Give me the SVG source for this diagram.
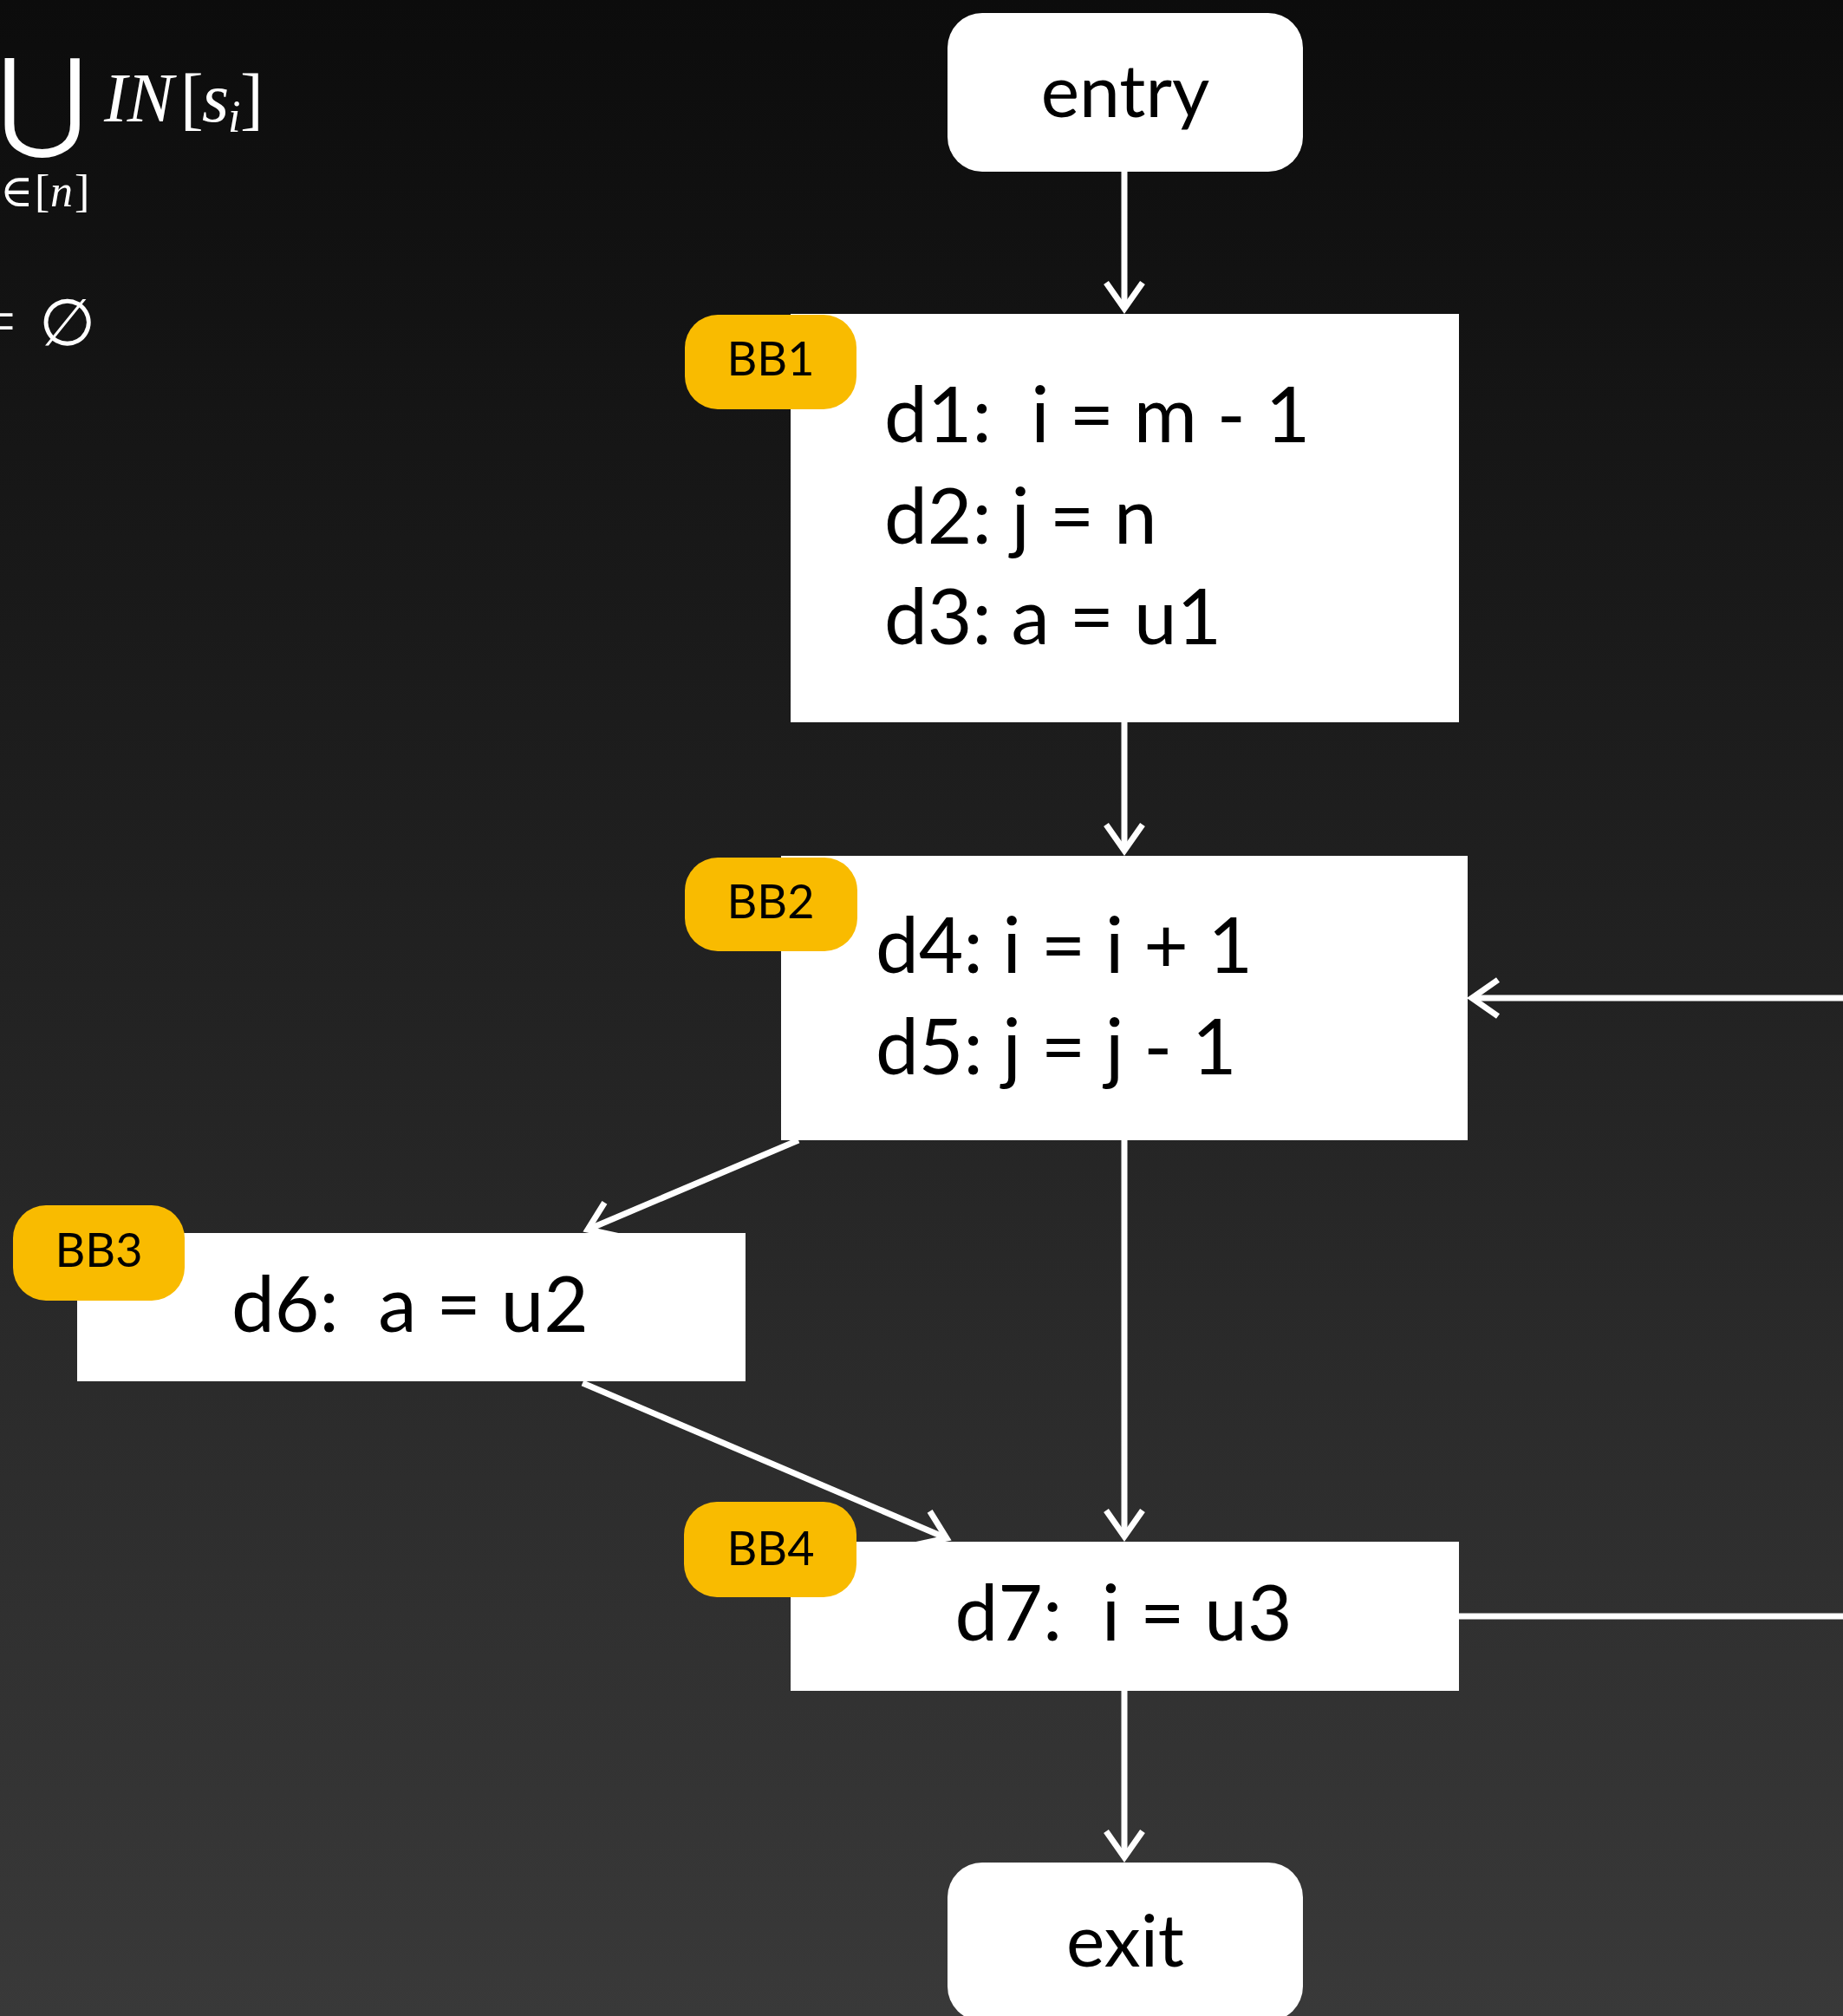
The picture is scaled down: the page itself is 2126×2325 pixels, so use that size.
<svg xmlns="http://www.w3.org/2000/svg" width="2126" height="2325" viewBox="0 0 2126 2325">
  <defs>
    <linearGradient id="bg" x1="0" y1="0" x2="0" y2="1">
      <stop offset="0" stop-color="#0c0c0c"/>
      <stop offset="1" stop-color="#393939"/>
    </linearGradient>
    <marker id="arr" markerUnits="userSpaceOnUse" viewBox="-40 -30 50 60" refX="0" refY="0" markerWidth="50" markerHeight="60" orient="auto" overflow="visible">
      <path d="M-30,-21 L0,0 L-30,21" fill="none" stroke="#fff" stroke-width="7"/>
    </marker>
    <style>
      .edge { stroke: #fff; stroke-width: 7; fill: none; }
      .box { fill: #fff; }
      .tag { fill: #f9bb00; }
      .code { font-family: "Lato", "Noto Sans", sans-serif; font-size: 89px; fill: #000; }
      .term { font-family: "Lato", "Noto Sans", sans-serif; font-size: 84px; fill: #000; text-anchor: middle; }
      .tagtext { font-family: "Lato", "Noto Sans", sans-serif; font-size: 54px; fill: #000; text-anchor: middle; }
      .math { font-family: "Liberation Serif", "DejaVu Serif", serif; fill: #fff; }
    </style>
  </defs>

  <rect width="2126" height="2325" fill="url(#bg)"/>

  <!-- dataflow equations, partly off the left edge -->
  <g id="equations">
    <text class="math" x="-3" y="158" font-size="126" font-family="DejaVu Serif, serif">⋃</text>
    <text class="math" x="120" y="140" font-size="80" font-style="italic">IN</text>
    <text class="math" x="208" y="140" font-size="80">[</text>
    <text class="math" x="233" y="140" font-size="80" font-style="italic">s</text>
    <text class="math" x="263" y="152" font-size="52" font-style="italic">i</text>
    <text class="math" x="277" y="140" font-size="80">]</text>
    <text class="math" x="0" y="238" font-size="52">∈</text>
    <text class="math" x="40" y="238" font-size="52">[</text>
    <text class="math" x="58" y="238" font-size="52" font-style="italic">n</text>
    <text class="math" x="86" y="238" font-size="52">]</text>
    <text class="math" x="18" y="395" font-size="75" text-anchor="end">=</text>
    <text class="math" x="45" y="398" font-size="75">∅</text>
  </g>

  <!-- control-flow edges -->
  <g id="edges">
    <line class="edge" x1="1297" y1="198" x2="1297" y2="356" marker-end="url(#arr)"/>
    <line class="edge" x1="1297" y1="833" x2="1297" y2="981" marker-end="url(#arr)"/>
    <line class="edge" x1="921" y1="1315" x2="678" y2="1418" marker-end="url(#arr)"/>
    <line class="edge" x1="1297" y1="1314" x2="1297" y2="1772" marker-end="url(#arr)"/>
    <line class="edge" x1="672" y1="1595" x2="1092" y2="1774" marker-end="url(#arr)"/>
    <line class="edge" x1="1297" y1="1950" x2="1297" y2="2142" marker-end="url(#arr)"/>
    <line class="edge" x1="1683" y1="1864" x2="2130" y2="1864"/>
    <line class="edge" x1="2130" y1="1151" x2="1698" y2="1151" marker-end="url(#arr)"/>
  </g>

  <g id="entry">
    <rect class="box" x="1093" y="15" width="410" height="183" rx="40"/>
    <text class="term" x="1298" y="135">entry</text>
  </g>

  <g id="bb1">
    <rect class="box" x="912" y="362" width="771" height="471"/>
    <text class="code" x="1020" y="510" xml:space="preserve">d1:  i = m - 1</text>
    <text class="code" x="1020" y="627">d2: j = n</text>
    <text class="code" x="1020" y="743">d3: a = u1</text>
    <rect class="tag" x="790" y="363" width="198" height="109" rx="38"/>
    <text class="tagtext" x="889" y="433">BB1</text>
  </g>

  <g id="bb2">
    <rect class="box" x="901" y="987" width="792" height="328"/>
    <text class="code" x="1010" y="1122">d4: i = i + 1</text>
    <text class="code" x="1010" y="1239">d5: j = j - 1</text>
    <rect class="tag" x="790" y="989" width="199" height="108" rx="38"/>
    <text class="tagtext" x="889" y="1059">BB2</text>
  </g>

  <g id="bb3">
    <rect class="box" x="89" y="1422" width="771" height="171"/>
    <text class="code" x="473" y="1536" text-anchor="middle" xml:space="preserve">d6:  a = u2</text>
    <rect class="tag" x="15" y="1390" width="198" height="110" rx="38"/>
    <text class="tagtext" x="114" y="1461">BB3</text>
  </g>

  <g id="bb4">
    <rect class="box" x="912" y="1778" width="771" height="172"/>
    <text class="code" x="1296" y="1892" text-anchor="middle" xml:space="preserve">d7:  i = u3</text>
    <rect class="tag" x="789" y="1732" width="199" height="110" rx="38"/>
    <text class="tagtext" x="889" y="1805">BB4</text>
  </g>

  <g id="exit">
    <rect class="box" x="1093" y="2148" width="410" height="183" rx="40"/>
    <text class="term" x="1298" y="2268">exit</text>
  </g>
</svg>
